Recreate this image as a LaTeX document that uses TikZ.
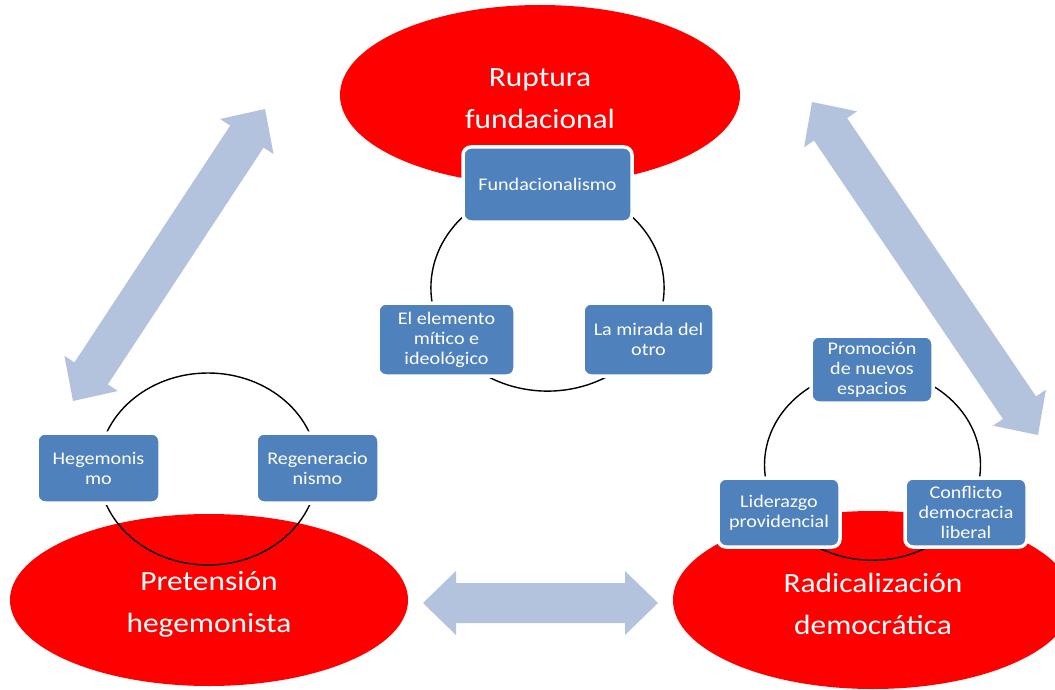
\documentclass[tikz,border=0pt]{standalone}
\usepackage{fontspec}
\setmainfont{Carlito}[FakeStretch=1.13]
\usetikzlibrary{shapes.geometric,calc}

\definecolor{ovalred}{RGB}{255,0,0}
\definecolor{boxblue}{RGB}{79,129,189}
\definecolor{arrowblue}{RGB}{179,195,222}

% double block arrow between two named points
\newcommand\blockarrow[2]{%
  \fill[arrowblue]
    (#1)
    -- ($(#1)!33pt!(#2)!32pt!90:(#2)$)
    -- ($(#1)!33pt!(#2)!20pt!90:(#2)$)
    -- ($(#2)!33pt!(#1)!20pt!-90:(#1)$)
    -- ($(#2)!33pt!(#1)!32pt!-90:(#1)$)
    -- (#2)
    -- ($(#2)!33pt!(#1)!32pt!90:(#1)$)
    -- ($(#2)!33pt!(#1)!20pt!90:(#1)$)
    -- ($(#1)!33pt!(#2)!20pt!-90:(#2)$)
    -- ($(#1)!33pt!(#2)!32pt!-90:(#2)$)
    -- cycle;}

\tikzset{
  bigoval/.style={ellipse, fill=ovalred, inner sep=0pt},
  ovaltext/.style={text=white, align=center, yshift=-4pt,
    font=\fontsize{27.8}{42}\selectfont},
  itembox/.style={rectangle, rounded corners=8pt, fill=boxblue, draw=white,
    line width=3.5pt, text=white, align=center, inner sep=2pt,
    font=\fontsize{17.8}{20}\selectfont},
  cycleline/.style={draw=black, line width=1.4pt},
}

\begin{document}
\begin{tikzpicture}[x=1pt,y=-1pt]
\useasboundingbox (0,0) rectangle (1055,690);
\clip (0,0) rectangle (1055,690);

% the three main stages
\node[bigoval, minimum width=400pt, minimum height=180pt,
  label={[ovaltext]center:Ruptura\\fundacional}] (rup) at (540,95) {};
\node[bigoval, minimum width=398pt, minimum height=172pt,
  label={[ovaltext]center:Pretensión\\hegemonista}] (pre) at (209,600) {};
\node[bigoval, minimum width=400pt, minimum height=178pt,
  label={[ovaltext]center:Radicalización\\democrática}] (rad) at (873,600) {};

% links between the stages
\coordinate (la) at (73,401);
\coordinate (lb) at (265,109);
\coordinate (ra) at (812,102);
\coordinate (rb) at (1038,435);
\coordinate (ha) at (423,603);
\coordinate (hb) at (658,603);
\blockarrow{la}{lb}
\blockarrow{ra}{rb}
\blockarrow{ha}{hb}

% cycles of each stage
\draw[cycleline] (547.5,287.8) ellipse [x radius=116.6pt, y radius=103.3pt];
\draw[cycleline] (208,469) ellipse [x radius=109.5pt, y radius=96pt];
\draw[cycleline] (872.5,465) ellipse [x radius=108pt, y radius=95.3pt];

% items of the top cycle
\node[itembox, minimum width=169pt, minimum height=75pt] (fun) at (547.5,184.5) {Fundacionalismo};
\node[itembox, minimum width=137pt, minimum height=73pt] (mit) at (446.5,339.5) {El elemento\\mítico e\\ideológico};
\node[itembox, minimum width=131pt, minimum height=73pt] (mir) at (648.5,339.5) {La mirada del\\otro};

% items of the left cycle
\node[itembox, minimum width=123pt, minimum height=70pt] (heg) at (98.5,468) {Hegemonis\\mo};
\node[itembox, minimum width=123pt, minimum height=70pt] (reg) at (317.5,468) {Regeneracio\\nismo};

% items of the right cycle
\node[itembox, minimum width=122pt, minimum height=67pt] (pro) at (872,369.5) {Promoción\\de nuevos\\espacios};
\node[itembox, minimum width=122pt, minimum height=69pt] (lid) at (779,512.5) {Liderazgo\\providencial};
\node[itembox, minimum width=122pt, minimum height=69pt] (con) at (966,512.5) {Conflicto\\democracia\\liberal};
\end{tikzpicture}
\end{document}
